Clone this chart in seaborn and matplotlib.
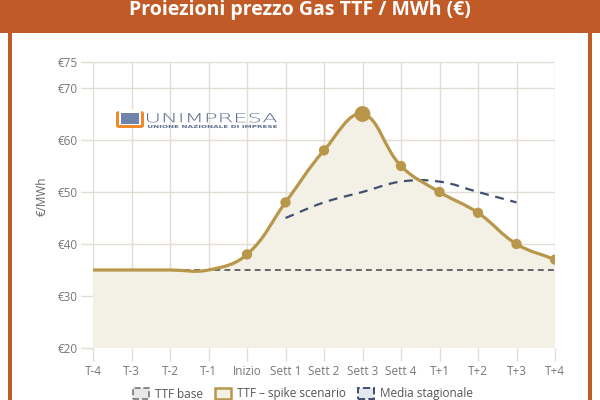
import numpy as np
import pandas as pd
import matplotlib
matplotlib.use('Agg')
import matplotlib.pyplot as plt
import seaborn as sns
from matplotlib.path import Path
from matplotlib.patches import PathPatch, Patch, Rectangle, FancyBboxPatch
from matplotlib.textpath import TextPath
from matplotlib.font_manager import FontProperties
from matplotlib.transforms import Affine2D, IdentityTransform

# Dati del grafico
periodi = ['T-4', 'T-3', 'T-2', 'T-1', 'Inizio', 'Sett 1', 'Sett 2', 'Sett 3',
           'Sett 4', 'T+1', 'T+2', 'T+3', 'T+4']
ttf_base = [35, 35, 35, 35, 35, 35, 35, 35, 35, 35, 35, 35, 35]
ttf_spike = [35, 35, 35, 35, 38, 48, 58, 65, 55, 50, 46, 40, 37]
media_periodi = ['Sett 1', 'Sett 2', 'Sett 3', 'Sett 4', 'T+1', 'T+2', 'T+3']
media_stagionale = [45, 48, 50, 52, 52, 50, 48]
y_ticks = [20, 30, 40, 50, 60, 70, 75]

ARANCIO = '#c05b28'
ORO = '#b8964a'
BEIGE = '#f3f0e6'
BLU = '#414f70'
GRIGIA = '#e2ddd4'
TESTO = '#777777'

W, H = 600, 400


def px(x, y):
    # coordinate in pixel (origine in alto a sinistra) -> frazione figura
    return x / W, 1 - y / H


def bezier_path(xs, ys, tension=0.4, sx=38.5, sy=5.2):
    # curva tipo Chart.js (spline cubica con tensione)
    pts = np.column_stack([np.asarray(xs, float) * sx, np.asarray(ys, float) * sy])
    n = len(pts)
    cp_prev, cp_next = [], []
    for i in range(n):
        prev = pts[i - 1] if i > 0 else pts[i]
        cur = pts[i]
        nxt = pts[i + 1] if i < n - 1 else pts[i]
        d01 = np.hypot(*(cur - prev))
        d12 = np.hypot(*(nxt - cur))
        tot = d01 + d12
        s01 = d01 / tot if tot else 0
        s12 = d12 / tot if tot else 0
        cp_prev.append(cur - tension * s01 * (nxt - prev))
        cp_next.append(cur + tension * s12 * (nxt - prev))
    verts = [pts[0]]
    codes = [Path.MOVETO]
    for i in range(n - 1):
        verts += [cp_next[i], cp_prev[i + 1], pts[i + 1]]
        codes += [Path.CURVE4] * 3
    verts = np.array(verts) / [sx, sy]
    return verts, codes


def testo_in_box(fig, s, x0, y0, x1, y1, color, weight='normal'):
    # scrive il testo stirato dentro un riquadro in pixel (logo)
    tp = TextPath((0, 0), s, size=10, prop=FontProperties(family='DejaVu Sans', weight=weight))
    bb = tp.get_extents()
    tr = (Affine2D().translate(-bb.x0, -bb.y0)
          .scale((x1 - x0) / bb.width, (y1 - y0) / bb.height)
          .translate(x0, H - y1))
    fig.patches.append(PathPatch(tr.transform_path(tp), transform=IdentityTransform(),
                                 facecolor=color, edgecolor='none', zorder=8))


sns.set_style('white')
plt.rcParams['font.family'] = ['Open Sans', 'DejaVu Sans']

fig = plt.figure(figsize=(6, 4), dpi=100)
fig.patch.set_facecolor('white')

# cornice arancione
fig.patches.append(Rectangle(px(0, 33), 1, 33 / H, transform=fig.transFigure,
                             facecolor=ARANCIO, edgecolor='none', zorder=0))
fig.patches.append(Rectangle(px(8, 400), 4 / W, 367 / H, transform=fig.transFigure,
                             facecolor=ARANCIO, edgecolor='none', zorder=0))
fig.patches.append(Rectangle(px(588, 400), 4 / W, 367 / H, transform=fig.transFigure,
                             facecolor=ARANCIO, edgecolor='none', zorder=0))
fig.text(0.5, px(0, 10)[1], 'Proiezioni prezzo Gas TTF / MWh (€)', color='white',
         ha='center', va='center', fontsize=14, fontweight='bold')

l, b = px(93, 348)
r, t = px(555, 62)
ax = fig.add_axes([l, b, r - l, t - b])

x_all = np.arange(len(periodi))
x_media = np.array([periodi.index(p) for p in media_periodi])

# area + linea spike
verts, codes = bezier_path(x_all, ttf_spike)
fill_verts = np.vstack([verts, [[x_all[-1], 20], [x_all[0], 20], verts[0]]])
fill_codes = codes + [Path.LINETO, Path.LINETO, Path.CLOSEPOLY]
ax.add_patch(PathPatch(Path(fill_verts, fill_codes), facecolor=BEIGE,
                       edgecolor='none', zorder=1))

df_base = pd.DataFrame({'x': x_all, 'y': ttf_base})
sns.lineplot(data=df_base, x='x', y='y', ax=ax, color='#666666', lw=1.4,
             linestyle=(0, (3, 2.2)), zorder=3)

ax.add_patch(PathPatch(Path(verts, codes), facecolor='none', edgecolor=ORO,
                       lw=2.3, zorder=4, capstyle='round'))

mv, mc = bezier_path(x_media, media_stagionale)
ax.add_patch(PathPatch(Path(mv, mc), facecolor='none', edgecolor=BLU,
                       lw=1.6, linestyle=(0, (4, 3)), zorder=3))

df_pts = pd.DataFrame({'x': x_all[4:], 'y': ttf_spike[4:]})
df_pts['s'] = np.where(df_pts['x'] == periodi.index('Sett 3'), 130, 55)
ax.scatter(df_pts['x'], df_pts['y'], s=df_pts['s'], color=ORO, zorder=5,
           linewidths=0)

ax.set_xlim(0, len(periodi) - 1)
ax.set_ylim(20, 75)
ax.set_xticks(x_all)
ax.set_xticklabels(periodi)
ax.set_yticks(y_ticks)
ax.set_yticklabels([f'€{v}' for v in y_ticks])
ax.set_xlabel('')
ax.set_ylabel('€/MWh', color='#666666', fontsize=8.5)
ax.yaxis.set_label_coords(-0.095, 0.53)
ax.grid(True, color=GRIGIA, lw=1)
ax.set_axisbelow(True)
ax.tick_params(axis='both', colors=GRIGIA, labelcolor=TESTO, length=9,
               width=1, labelsize=8.5, left=True, bottom=True)
ax.tick_params(axis='y', pad=2)
ax.tick_params(axis='x', pad=3)
for s in ax.spines.values():
    s.set_visible(False)
ax.set_facecolor('white')

# logo Unimpresa
fig.patches.append(FancyBboxPatch(px(116, 128), 28 / W, 17 / H, transform=fig.transFigure,
                                  boxstyle='round,pad=0,rounding_size=0.006',
                                  facecolor='#ee8a2c', edgecolor='none', zorder=6))
fig.patches.append(Rectangle(px(119, 125), 22 / W, 15 / H, transform=fig.transFigure,
                             facecolor='white', edgecolor='none', zorder=6))
fig.patches.append(Rectangle(px(121, 124), 18 / W, 11 / H, transform=fig.transFigure,
                             facecolor='#7083ab', edgecolor='none', zorder=7))
testo_in_box(fig, 'UNIMPRESA', 147, 113, 277, 122.5, '#5d6d8e', weight='light')
testo_in_box(fig, 'UNIONE NAZIONALE DI IMPRESE', 148, 125, 277, 128, '#5d6d8e', weight='bold')

handles = [
    Patch(facecolor='#e8e8e8', edgecolor='#777777', linestyle='--', lw=1.2),
    Patch(facecolor=BEIGE, edgecolor=ORO, lw=1.8),
    Patch(facecolor='#e4e7ee', edgecolor=BLU, linestyle='--', lw=1.4),
]
fig.legend(handles, ['TTF base', 'TTF – spike scenario', 'Media stagionale'],
           loc='center', bbox_to_anchor=(0.505, px(0, 394)[1]), ncol=3,
           frameon=False, fontsize=8.5, labelcolor='#555555', handlelength=1.4,
           handleheight=1.1, handletextpad=0.5, columnspacing=1.0)

fig.savefig('out.png', dpi=100, facecolor='white')
